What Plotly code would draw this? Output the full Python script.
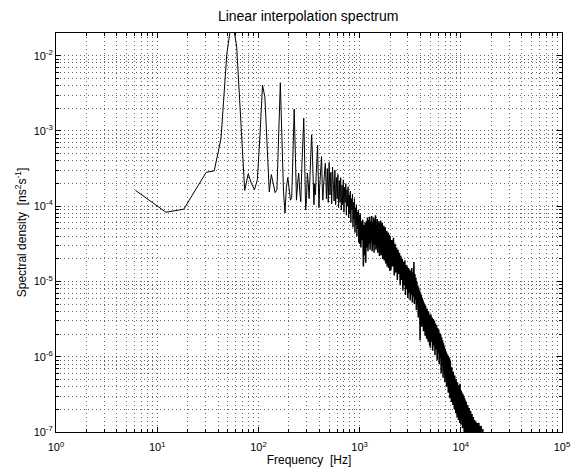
import plotly.graph_objects as go

# ---------------- data ----------------
# low-frequency part, individual FFT bins (6.1 Hz spacing)
low_freq_hz = [6.1, 12.2, 18.3, 24.4, 30.5, 36.6, 42.7, 48.8, 54.9, 61.0,
               67.1, 73.2, 79.3, 85.4, 91.5, 97.6, 103.7, 109.8, 115.9, 122.0,
               128.1, 134.2, 140.3, 146.4, 152.5, 158.6, 164.7, 170.8, 176.9, 183.0,
               189.1, 195.2, 201.3, 207.4, 213.5, 219.6, 225.7, 231.8, 237.9, 244.0,
               250.1, 256.2, 262.3, 268.4, 274.5, 280.6, 286.7, 292.8, 298.9, 305.0,
               311.1, 317.2, 323.3, 329.4, 335.5, 341.6, 347.7, 353.8, 359.9, 366.0,
               372.1, 378.2, 384.3, 390.4, 396.5, 402.6, 408.7, 414.8, 420.9, 427.0,
               433.1, 439.2, 445.3, 451.4, 457.5]
low_log_psd = [-3.79, -4.08, -4.04, -3.77, -3.55, -3.53, -3.10, -1.97, -1.50, -1.88,
               -2.90, -3.79, -3.57, -3.70, -3.78, -3.65, -3.05, -2.39, -2.55, -3.30,
               -3.81, -3.58, -3.70, -3.82, -3.78, -3.10, -2.36, -3.10, -3.80, -4.09,
               -3.75, -3.62, -3.80, -3.92, -3.88, -3.30, -2.71, -3.30, -3.92, -3.70,
               -3.56, -3.80, -3.94, -3.50, -3.00, -2.83, -3.40, -4.05, -3.90, -3.56,
               -3.70, -3.90, -3.60, -3.20, -3.05, -3.30, -3.75, -3.98, -3.70, -3.85,
               -3.60, -3.30, -3.19, -3.60, -4.02, -3.75, -3.60, -3.45, -3.34, -3.70,
               -3.92, -3.75, -3.60, -3.45, -3.43]

# 460 - 990 Hz
segA_freq_hz = [460, 470, 480, 490, 500, 510, 520, 530, 540, 550, 560, 570, 580, 590,
                600, 610, 620, 630, 640, 650, 660, 670, 680, 690, 700, 710, 720, 730,
                740, 750, 760, 770, 780, 790, 800, 810, 820, 830, 840, 850, 860, 870,
                880, 890, 900, 910, 920, 930, 940, 950, 960, 970, 980, 990]
segA_log_psd = [-3.45, -3.90, -3.50, -3.95, -3.42, -3.85, -3.55, -3.97, -3.48, -3.80,
                -3.93, -3.52, -3.98, -3.62, -3.90, -3.58, -4.02, -3.66, -3.95, -3.62,
                -4.05, -3.72, -3.98, -3.65, -4.08, -3.75, -3.95, -3.70, -4.12, -3.78,
                -4.00, -3.74, -4.15, -3.85, -4.10, -3.80, -4.22, -3.90, -4.05, -3.84,
                -4.28, -3.95, -4.18, -3.90, -4.35, -4.02, -4.25, -3.98, -4.40, -4.08,
                -4.30, -4.05, -4.48, -4.12]

# 1000 - 1990 Hz
segB_freq_hz = [1000, 1015, 1030, 1045, 1060, 1075, 1090, 1105, 1120, 1135, 1150, 1165,
                1180, 1195, 1210, 1225, 1240, 1255, 1270, 1285, 1300, 1315, 1330, 1345,
                1360, 1375, 1390, 1405, 1420, 1435, 1450, 1465, 1480, 1495, 1510, 1525,
                1540, 1555, 1570, 1585, 1600, 1615, 1630, 1645, 1660, 1675, 1690, 1705,
                1720, 1735, 1750, 1765, 1780, 1795, 1810, 1825, 1840, 1855, 1870, 1885,
                1900, 1915, 1930, 1945, 1960, 1975, 1990]
segB_log_psd = [-4.50, -4.10, -4.55, -4.20, -4.45, -4.18, -4.80, -4.25, -4.65, -4.22,
                -4.75, -4.20, -4.55, -4.15, -4.60, -4.18, -4.50, -4.14, -4.58, -4.20,
                -4.48, -4.13, -4.60, -4.22, -4.52, -4.15, -4.62, -4.18, -4.50, -4.12,
                -4.58, -4.25, -4.55, -4.17, -4.62, -4.22, -4.50, -4.20, -4.66, -4.24,
                -4.55, -4.19, -4.65, -4.28, -4.58, -4.22, -4.70, -4.30, -4.60, -4.26,
                -4.72, -4.32, -4.62, -4.28, -4.76, -4.36, -4.66, -4.33, -4.80, -4.40,
                -4.70, -4.35, -4.82, -4.42, -4.74, -4.38, -4.86]

# 2000 - 4960 Hz
segC_freq_hz = [2000, 2040, 2080, 2120, 2160, 2200, 2240, 2280, 2320, 2360, 2400, 2440,
                2480, 2520, 2560, 2600, 2640, 2680, 2720, 2760, 2800, 2840, 2880, 2920,
                2960, 3000, 3040, 3080, 3120, 3160, 3200, 3240, 3280, 3320, 3360, 3400,
                3440, 3480, 3520, 3560, 3600, 3640, 3680, 3720, 3760, 3800, 3840, 3880,
                3920, 3960, 4000, 4040, 4080, 4120, 4160, 4200, 4240, 4280, 4320, 4360,
                4400, 4440, 4480, 4520, 4560, 4600, 4640, 4680, 4720, 4760, 4800, 4840,
                4880, 4920, 4960]
segC_log_psd = [-4.40, -4.85, -4.45, -4.80, -4.42, -4.92, -4.50, -4.88, -4.55, -4.98,
                -4.58, -4.90, -4.62, -5.05, -4.66, -4.98, -4.70, -5.12, -4.74, -5.05,
                -4.72, -5.18, -4.78, -5.10, -4.80, -5.22, -4.82, -5.15, -4.84, -5.25,
                -4.86, -5.18, -4.82, -5.28, -4.88, -5.20, -4.74, -5.30, -4.90, -5.24,
                -4.95, -5.38, -5.00, -5.32, -5.05, -5.48, -5.08, -5.40, -5.12, -5.78,
                -5.15, -5.50, -5.18, -5.60, -5.22, -5.55, -5.25, -5.66, -5.28, -5.60,
                -5.30, -5.72, -5.32, -5.64, -5.35, -5.76, -5.36, -5.68, -5.38, -5.80,
                -5.40, -5.72, -5.42, -5.85, -5.44]

# 5000 - 9970 Hz
segD_freq_hz = [5000, 5070, 5140, 5210, 5280, 5350, 5420, 5490, 5560, 5630, 5700, 5770,
                5840, 5910, 5980, 6050, 6120, 6190, 6260, 6330, 6400, 6470, 6540, 6610,
                6680, 6750, 6820, 6890, 6960, 7030, 7100, 7170, 7240, 7310, 7380, 7450,
                7520, 7590, 7660, 7730, 7800, 7870, 7940, 8010, 8080, 8150, 8220, 8290,
                8360, 8430, 8500, 8570, 8640, 8710, 8780, 8850, 8920, 8990, 9060, 9130,
                9200, 9270, 9340, 9410, 9480, 9550, 9620, 9690, 9760, 9830, 9900, 9970]
segD_log_psd = [-5.88, -5.44, -5.80, -5.48, -5.92, -5.50, -5.85, -5.52, -5.98, -5.56,
                -5.90, -5.58, -6.05, -5.62, -5.96, -5.64, -6.10, -5.68, -6.02, -5.70,
                -6.22, -5.74, -6.12, -5.78, -6.28, -5.82, -6.18, -5.86, -6.34, -5.90,
                -6.24, -5.93, -6.40, -5.96, -6.30, -5.98, -6.48, -6.00, -6.38, -6.02,
                -6.55, -6.05, -6.44, -6.10, -6.60, -6.14, -6.50, -6.16, -6.64, -6.20,
                -6.55, -6.22, -6.70, -6.25, -6.60, -6.28, -6.75, -6.30, -6.66, -6.32,
                -6.80, -6.34, -6.70, -6.36, -6.84, -6.38, -6.74, -6.40, -6.88, -6.36,
                -6.78, -6.42]

# 10000 - 16900 Hz
segE_freq_hz = [10000, 10100, 10200, 10300, 10400, 10500, 10600, 10700, 10800, 10900,
                11000, 11100, 11200, 11300, 11400, 11500, 11600, 11700, 11800, 11900,
                12000, 12100, 12200, 12300, 12400, 12500, 12600, 12700, 12800, 12900,
                13000, 13100, 13200, 13300, 13400, 13500, 13600, 13700, 13800, 13900,
                14000, 14100, 14200, 14300, 14400, 14500, 14600, 14700, 14800, 14900,
                15000, 15100, 15200, 15300, 15400, 15500, 15600, 15700, 15800, 15900,
                16000, 16100, 16200, 16300, 16400, 16500, 16600, 16700, 16800, 16900]
segE_log_psd = [-6.90, -6.45, -6.80, -6.48, -6.95, -6.50, -6.85, -6.52, -7.00, -6.55,
                -6.90, -6.58, -7.05, -6.60, -6.95, -6.62, -7.10, -6.64, -7.00, -6.66,
                -7.15, -6.68, -7.05, -6.70, -7.20, -6.72, -7.10, -6.75, -7.25, -6.76,
                -7.15, -6.78, -7.30, -6.80, -7.20, -6.82, -7.35, -6.84, -7.25, -6.85,
                -7.40, -6.86, -7.30, -6.87, -7.45, -6.88, -7.35, -6.89, -7.50, -6.90,
                -7.40, -6.88, -7.55, -6.92, -7.45, -6.93, -7.60, -6.95, -7.50, -6.92,
                -7.65, -7.02, -7.55, -7.05, -7.70, -6.96, -7.60, -7.15, -7.75, -7.30]

x_tick_vals = [1, 10, 100, 1000, 10000, 100000]
x_tick_text = ["10<sup>0</sup>", "10<sup>1</sup>", "10<sup>2</sup>",
               "10<sup>3</sup>", "10<sup>4</sup>", "10<sup>5</sup>"]
y_tick_vals = [1e-7, 1e-6, 1e-5, 1e-4, 1e-3, 1e-2]
y_tick_text = ["10<sup>-7</sup>", "10<sup>-6</sup>", "10<sup>-5</sup>",
               "10<sup>-4</sup>", "10<sup>-3</sup>", "10<sup>-2</sup>"]
x_minor_vals = [m * 10 ** e for e in range(0, 5) for m in range(2, 10)]
y_minor_vals = [m * 10.0 ** e for e in range(-7, -1) for m in range(2, 10)]

# ---------------- assemble ----------------
sparse_freq = low_freq_hz + segA_freq_hz + segB_freq_hz[:1]
sparse_logp = low_log_psd + segA_log_psd + segB_log_psd[:1]
dense_freq = segB_freq_hz + segC_freq_hz + segD_freq_hz + segE_freq_hz
dense_logp = segB_log_psd + segC_log_psd + segD_log_psd + segE_log_psd
assert len(sparse_freq) == len(sparse_logp)
assert len(dense_freq) == len(dense_logp)

fig = go.Figure()
fig.add_trace(go.Scatter(x=sparse_freq, y=[10.0 ** v for v in sparse_logp], mode="lines",
                         line=dict(color="black", width=1), showlegend=False))
fig.add_trace(go.Scatter(x=dense_freq, y=[10.0 ** v for v in dense_logp], mode="lines",
                         line=dict(color="black", width=1.5), showlegend=False))

font_family = "Liberation Sans, Arial, Helvetica, sans-serif"
grid_common = dict(gridcolor="#666666", gridwidth=1, griddash="1px,3px")

fig.update_layout(
    width=576, height=471,
    margin=dict(l=56, r=14, t=33, b=39, autoexpand=False),
    paper_bgcolor="white", plot_bgcolor="white",
    font=dict(family=font_family, size=11, color="black"),
    title=dict(text="Linear interpolation spectrum", x=0.535, xanchor="center",
               y=1 - 16 / 471, yanchor="middle",
               font=dict(size=14, family=font_family, color="black")),
)
fig.update_xaxes(
    type="log", range=[0, 5], automargin=False,
    tickmode="array", tickvals=x_tick_vals, ticktext=x_tick_text,
    ticks="inside", ticklen=5, tickcolor="black", ticklabelstandoff=5,
    showline=True, linecolor="black", linewidth=1, mirror="allticks",
    showgrid=True, **grid_common,
    minor=dict(tickmode="array", tickvals=x_minor_vals, ticks="inside", ticklen=3,
               tickcolor="black", showgrid=True, **grid_common),
    zeroline=False,
    title=dict(text="Frequency  [Hz]", standoff=0, font=dict(size=12)),
    tickfont=dict(size=11),
)
fig.update_yaxes(
    type="log", range=[-7, -1.69897], automargin=False,
    tickmode="array", tickvals=y_tick_vals, ticktext=y_tick_text,
    ticks="inside", ticklen=5, tickcolor="black",
    showline=True, linecolor="black", linewidth=1, mirror="allticks",
    showgrid=True, **grid_common,
    minor=dict(tickmode="array", tickvals=y_minor_vals, ticks="inside", ticklen=3,
               tickcolor="black", showgrid=True, **grid_common),
    zeroline=False,
    title=dict(text="Spectral density  [ns<sup>2</sup>s<sup>-1</sup>]", standoff=4,
               font=dict(size=12)),
    tickfont=dict(size=11),
)

fig.write_html("out.html")
